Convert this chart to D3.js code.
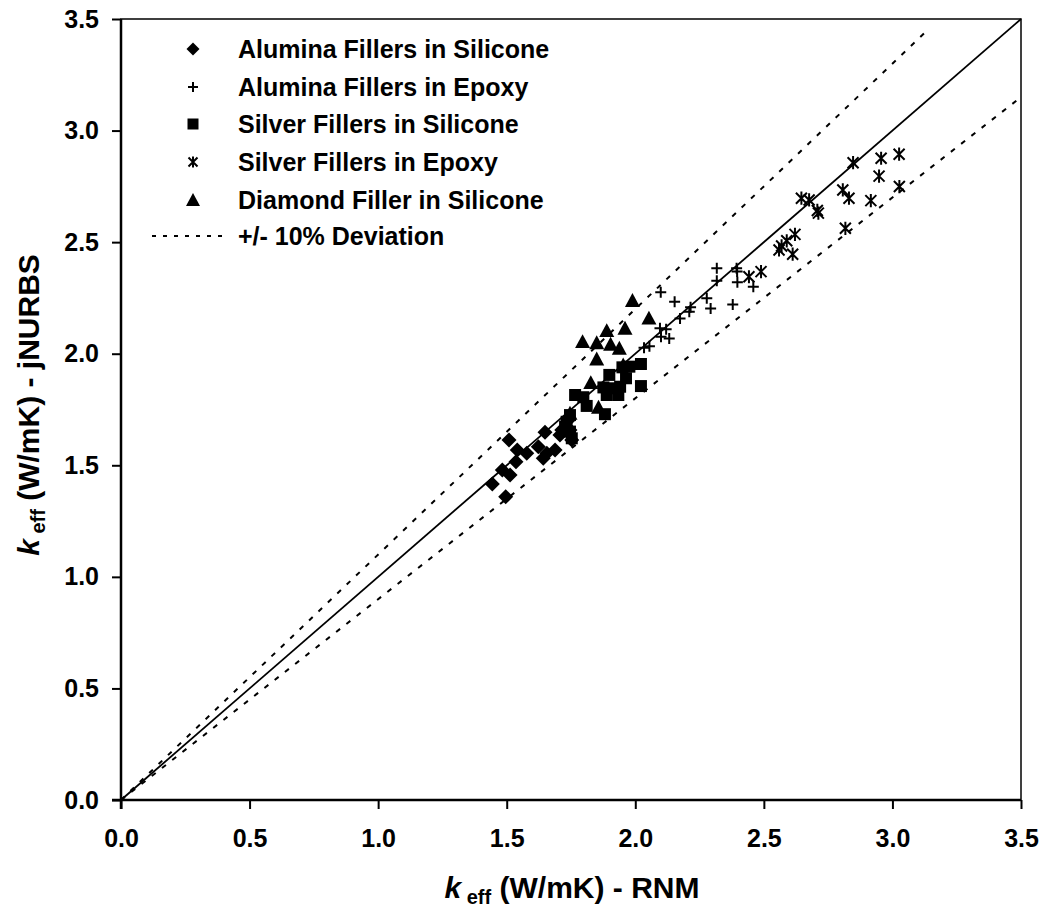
<!DOCTYPE html>
<html>
<head>
<meta charset="utf-8">
<script src="https://cdn.jsdelivr.net/npm/d3@7"></script>
<style>
  html, body { margin: 0; padding: 0; background: #fff; }
  svg text { font-family: "Liberation Sans", Arial, sans-serif; font-weight: bold; fill: #000; }
</style>
</head>
<body>
<div id="chart"></div>
<script>
// k_eff values: [RNM, jNURBS]
var aluminaSilicone = [[1.509,1.613],[1.541,1.568],[1.578,1.554],[1.649,1.648],[1.623,1.583],[1.656,1.554],[1.688,1.568],[1.642,1.531],[1.536,1.516],[1.483,1.479],[1.513,1.456],[1.444,1.416],[1.496,1.359],[1.714,1.658],[1.746,1.658],[1.740,1.703],[1.753,1.613],[1.707,1.636]];
var aluminaEpoxy = [[2.317,2.383],[2.394,2.383],[2.396,2.368],[2.317,2.327],[2.397,2.320],[2.459,2.300],[2.278,2.248],[2.293,2.203],[2.379,2.221],[2.153,2.233],[2.215,2.208],[2.210,2.188],[2.174,2.158],[2.099,2.276],[2.096,2.114],[2.120,2.110],[2.100,2.076],[2.132,2.068],[2.034,2.027],[2.055,2.033]];
var silverSilicone = [[2.022,1.954],[1.977,1.942],[1.950,1.939],[1.899,1.905],[1.964,1.890],[2.022,1.855],[1.876,1.849],[1.908,1.845],[1.941,1.852],[1.889,1.815],[1.934,1.815],[1.766,1.815],[1.798,1.805],[1.811,1.766],[1.882,1.729],[1.746,1.725],[1.733,1.695],[1.727,1.673],[1.746,1.651],[1.753,1.621]];
var silverEpoxy = [[2.847,2.856],[2.956,2.876],[3.026,2.894],[2.948,2.796],[3.027,2.749],[2.807,2.734],[2.831,2.697],[2.916,2.686],[2.646,2.697],[2.676,2.689],[2.708,2.642],[2.712,2.630],[2.817,2.562],[2.621,2.535],[2.589,2.506],[2.569,2.483],[2.612,2.446],[2.559,2.465],[2.442,2.345],[2.489,2.368]];
var diamondSilicone = [[1.989,2.238],[2.053,2.159],[1.960,2.114],[1.889,2.103],[1.795,2.054],[1.850,2.049],[1.904,2.042],[1.938,2.024],[1.850,1.976],[1.953,1.949],[1.827,1.870],[1.857,1.760],[1.746,1.733]];

var xTicks = [0, 0.5, 1.0, 1.5, 2.0, 2.5, 3.0, 3.5];
var yTicks = [0, 0.5, 1.0, 1.5, 2.0, 2.5, 3.0, 3.5];
var seriesNames = ["Alumina Fillers in Silicone", "Alumina Fillers in Epoxy", "Silver Fillers in Silicone", "Silver Fillers in Epoxy", "Diamond Filler in Silicone"];
var deviationName = "+/- 10% Deviation";
var lineEnds = {equal: [0, 3.5], upper: [0, 3.13], lower: [0, 3.5]};

var width = 1044, height = 913;
var margin = {top: 19, right: 23, bottom: 113, left: 121};

var svg = d3.select("#chart").append("svg")
  .attr("width", width)
  .attr("height", height);

var x = d3.scaleLinear().domain([0, 3.5]).range([margin.left, width - margin.right]);
var y = d3.scaleLinear().domain([0, 3.5]).range([height - margin.bottom, margin.top]);

// marker shapes (size = width squared)
var plusSym = {draw: function(ctx, size) {
  var r = Math.sqrt(size) / 2;
  ctx.moveTo(-r, 0); ctx.lineTo(r, 0);
  ctx.moveTo(0, -r); ctx.lineTo(0, r);
}};
var starSym = {draw: function(ctx, size) {
  var r = Math.sqrt(size) / 2;
  ctx.moveTo(-r, -r); ctx.lineTo(r, r);
  ctx.moveTo(-r, r); ctx.lineTo(r, -r);
  ctx.moveTo(0, -r * 1.2); ctx.lineTo(0, r * 1.2);
}};
var diamondSym = {draw: function(ctx, size) {
  var r = Math.sqrt(size) / 2;
  ctx.moveTo(0, -r); ctx.lineTo(r, 0); ctx.lineTo(0, r); ctx.lineTo(-r, 0); ctx.closePath();
}};
var triSym = {draw: function(ctx, size) {
  var r = Math.sqrt(size) / 2;
  ctx.moveTo(0, -r); ctx.lineTo(r, r * 0.85); ctx.lineTo(-r, r * 0.85); ctx.closePath();
}};

var series = [
  {name: seriesNames[0], data: aluminaSilicone, type: diamondSym, size: 15*15, legSize: 13*13, fill: true},
  {name: seriesNames[1], data: aluminaEpoxy, type: plusSym, size: 11*11, legSize: 10*10, fill: false},
  {name: seriesNames[2], data: silverSilicone, type: d3.symbolSquare, size: 12*12, legSize: 11*11, fill: true},
  {name: seriesNames[3], data: silverEpoxy, type: starSym, size: 11*11, legSize: 9*9, fill: false},
  {name: seriesNames[4], data: diamondSilicone, type: triSym, size: 15*15, legSize: 14*14, fill: true}
];

// reference lines
var lineGen = d3.line().x(function(d) { return x(d[0]); }).y(function(d) { return y(d[1]); });
var g = svg.append("g");
g.append("path")
  .attr("d", lineGen(lineEnds.equal.map(function(v) { return [v, v]; })))
  .attr("stroke", "#000").attr("stroke-width", 1.8).attr("fill", "none");
g.append("path")
  .attr("d", lineGen(lineEnds.upper.map(function(v) { return [v, v * 1.1]; })))
  .attr("stroke", "#000").attr("stroke-width", 2).attr("fill", "none")
  .attr("stroke-dasharray", "5,8");
g.append("path")
  .attr("d", lineGen(lineEnds.lower.map(function(v) { return [v, v * 0.9]; })))
  .attr("stroke", "#000").attr("stroke-width", 2).attr("fill", "none")
  .attr("stroke-dasharray", "5,8");

// points
series.forEach(function(s) {
  g.append("g").selectAll("path")
    .data(s.data)
    .enter()
    .append("path")
      .attr("transform", function(d) { return "translate(" + x(d[0]) + "," + y(d[1]) + ")"; })
      .attr("d", d3.symbol().type(s.type).size(s.size))
      .attr("fill", s.fill ? "#000" : "none")
      .attr("stroke", "#000")
      .attr("stroke-width", s.fill ? 0 : 2);
});

// axes
var xAxis = d3.axisBottom(x).tickValues(xTicks).tickSize(9).tickPadding(20).tickFormat(d3.format(".1f"));
var yAxis = d3.axisLeft(y).tickValues(yTicks).tickSize(9).tickPadding(13).tickFormat(d3.format(".1f"));

var gx = svg.append("g").attr("transform", "translate(0," + y(0) + ")").call(xAxis);
var gy = svg.append("g").attr("transform", "translate(" + x(0) + ",0)").call(yAxis);
[gx, gy].forEach(function(a) {
  a.select(".domain").remove();
  a.selectAll(".tick line").attr("stroke", "#000").attr("stroke-width", 2);
  a.selectAll(".tick text").style("font-size", "25px").style("font-family", "'Liberation Sans', Arial, sans-serif").style("font-weight", "bold");
});

// frame
svg.append("rect")
  .attr("x", x(0)).attr("y", y(3.5))
  .attr("width", x(3.5) - x(0)).attr("height", y(0) - y(3.5))
  .attr("fill", "none").attr("stroke", "#000").attr("stroke-width", 1.5);
svg.append("line").attr("x1", x(0)).attr("x2", x(0)).attr("y1", y(3.5)).attr("y2", y(0) + 9)
  .attr("stroke", "#000").attr("stroke-width", 2.5);
svg.append("line").attr("x1", x(0) - 9).attr("x2", x(3.5)).attr("y1", y(0)).attr("y2", y(0))
  .attr("stroke", "#000").attr("stroke-width", 2.5);

// legend
var legY = [49, 87, 124, 162, 200];
var leg = svg.append("g");
series.forEach(function(s, i) {
  leg.append("path")
    .attr("transform", "translate(193," + legY[i] + ")")
    .attr("d", d3.symbol().type(s.type).size(s.legSize))
    .attr("fill", s.fill ? "#000" : "none")
    .attr("stroke", "#000")
    .attr("stroke-width", s.fill ? 0 : 2);
  leg.append("text").attr("x", 238).attr("y", legY[i] + 9).style("font-size", "25px").text(s.name);
});
leg.append("line").attr("x1", 152).attr("x2", 228).attr("y1", 236).attr("y2", 236)
  .attr("stroke", "#000").attr("stroke-width", 1.8).attr("stroke-dasharray", "4,7");
leg.append("text").attr("x", 238).attr("y", 245).style("font-size", "25px").text(deviationName);

// axis titles
var xt = svg.append("text").attr("x", 572).attr("y", 898).attr("text-anchor", "middle").style("font-size", "30px");
xt.append("tspan").style("font-style", "italic").text("k");
xt.append("tspan").attr("dy", 6).style("font-size", "20px").text(" eff");
xt.append("tspan").attr("dy", -6).text(" (W/mK) - RNM");

var yt = svg.append("text").attr("transform", "translate(39,405) rotate(-90)").attr("text-anchor", "middle").style("font-size", "30px");
yt.append("tspan").style("font-style", "italic").text("k");
yt.append("tspan").attr("dy", 6).style("font-size", "20px").text(" eff");
yt.append("tspan").attr("dy", -6).text(" (W/mK) - jNURBS");
</script>
</body>
</html>
